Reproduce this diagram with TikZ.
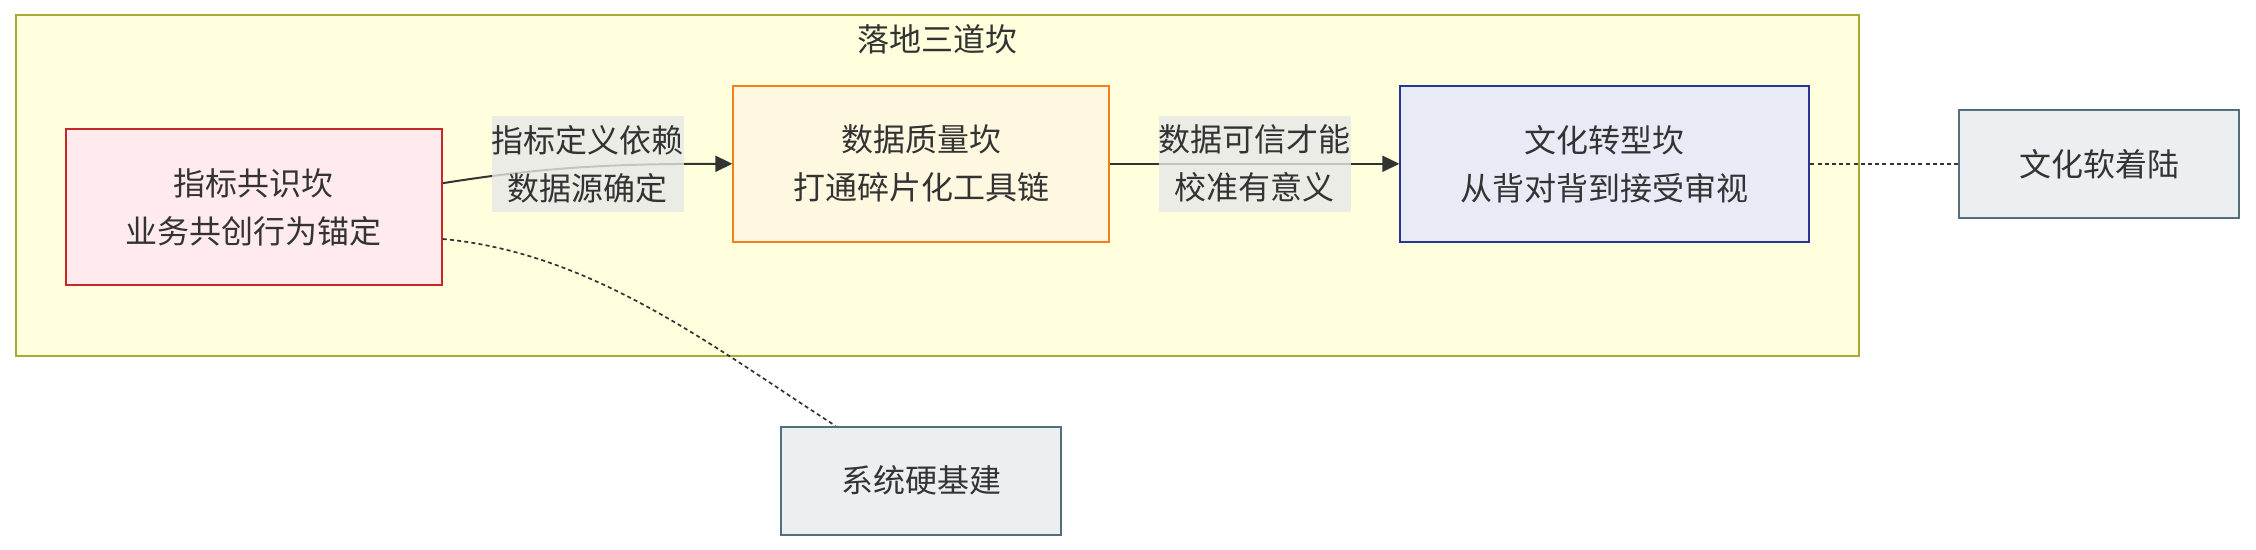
\documentclass[tikz,border=0pt]{standalone}
\usepackage{fontspec}
\setmainfont{Noto Sans CJK SC}
\usetikzlibrary{arrows.meta,positioning,calc,fit,backgrounds}

\definecolor{ink}{HTML}{333333}
\definecolor{clusterfill}{HTML}{FFFFDE}
\definecolor{clusterline}{HTML}{AAAA33}
\definecolor{redfill}{HTML}{FFEBEE}
\definecolor{redline}{HTML}{C62828}
\definecolor{amberfill}{HTML}{FFF8E1}
\definecolor{amberline}{HTML}{F57F17}
\definecolor{indigofill}{HTML}{E8EAF6}
\definecolor{indigoline}{HTML}{283593}
\definecolor{slatefill}{HTML}{ECEFF1}
\definecolor{slateline}{HTML}{546E7A}
\definecolor{lblgray}{HTML}{E8E8E8}

\begin{document}
\begin{tikzpicture}[
  font=\fontsize{16pt}{24pt}\selectfont,
  text=ink,
  >={Triangle[length=8.5pt,width=8pt]},
  stage/.style={draw, line width=1pt, align=center, minimum height=78pt, minimum width=188pt},
  outcome/.style={draw=slateline, fill=slatefill, line width=1pt, align=center, minimum height=54pt, minimum width=140pt},
  cluster/.style={draw=clusterline, fill=clusterfill, line width=1pt},
  lbl/.style={fill=lblgray, fill opacity=0.8, text opacity=1, inner sep=0pt, minimum height=48pt, align=center},
  arrow/.style={->, draw=ink, line width=1pt},
  dotline/.style={draw=ink, line width=0.85pt, dash pattern=on 2pt off 1.6pt}
]
\useasboundingbox (0,0) rectangle (1128pt,-275pt);

% Three hurdles
\node[stage, fill=redfill, draw=redline] (metric) at (126.9pt,-103.6pt) {指标共识坎\\业务共创行为锚定};
\node[stage, fill=amberfill, draw=amberline, right=144.8pt of metric, yshift=21.7pt] (quality) {数据质量坎\\打通碎片化工具链};
\node[stage, fill=indigofill, draw=indigoline, minimum width=204.5pt, right=144.5pt of quality] (culture) {文化转型坎\\从背对背到接受审视};

% Landings
\node[outcome, right=74pt of culture] (soft) {文化软着陆};
\node[outcome, below=91.5pt of quality] (hard) {系统硬基建};

% Links
\draw[arrow] ([yshift=12pt]metric.east) .. controls +(50pt,8pt) and +(-60pt,0pt) .. (quality.west);
\node[lbl] (dep) at ($(metric.east |- quality.west)!0.5!(quality.west)$) {指标定义依赖\\数据源确定};
\draw[arrow] (quality) -- node[lbl] (trust) {数据可信才能\\校准有意义} (culture);
\draw[dotline] (culture) -- (soft);
\draw[dotline] ([yshift=-15.9pt]metric.east) .. controls +(75pt,-7pt) and +(-62pt,40pt) .. ([xshift=-43pt]hard.north);

% Cluster
\begin{scope}[on background layer]
  \node[cluster, fit=(metric)(quality)(culture), inner xsep=24.5pt, inner ysep=35pt,
        label={[anchor=north, inner sep=0pt, yshift=-5pt]north:落地三道坎}] (field) {};
\end{scope}

\end{tikzpicture}
\end{document}
